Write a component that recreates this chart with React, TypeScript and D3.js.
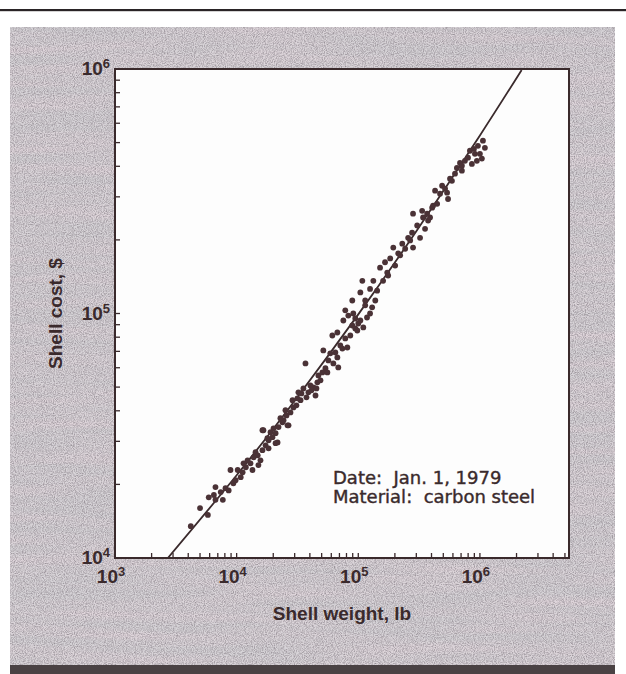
import * as d3 from "d3";
import React from "react";

// shell weight (1000 lb) and shell cost (1000 $)
const weightK = [
  4.2, 5.8, 5.9, 6.7, 6.7, 7.7, 8.1, 8.6, 8.9, 9.4, 10.2, 10.8, 11.9, 12.3, 13.0, 13.8, 14.3, 15.7, 16.3, 16.6,
  17.3, 18.3, 19.0, 19.7, 20.9, 22.1, 21.7, 23.8,
  20.1, 24.3, 25.2, 26.7, 29.3, 31.6, 32.2, 33.5, 35.4, 36.8, 38.9, 40.4, 42.8, 46.1, 44.5, 47.0, 53.7, 56.8,
  62.4, 67.3, 68.5, 61.2, 67.3, 51.6, 58.9, 74.0, 81.3, 78.2, 86.0, 89.3, 94.5, 100, 104, 110, 118, 125, 75.4, 82.8,
  16.3, 26.2,
  78.2, 89.3, 91.0, 104, 108, 114, 125, 130, 133, 143, 151, 160, 173, 183, 194, 201, 213, 230, 243, 257, 277, 282,
  305, 322, 341, 375, 405, 445,
  282, 335, 389, 412, 428, 470, 537, 547, 589, 624, 647, 686, 753, 798, 828, 910, 944, 1000, 963, 1059, 859,
  28.8, 31.0, 34.1, 37.5, 41.2, 45.3, 48.9, 50.7, 14.9, 11.4, 17.9, 9.8, 7.4, 5.0, 166, 489, 711, 368, 94.5, 114,
  25.7, 27.7, 22.9, 55.7, 64.8, 71.2, 98.2, 138, 176, 221, 267, 354, 517, 568, 711, 893, 1099, 1038,
  13.5, 15.1, 18.3, 20.9, 6.5, 11.2,
];
const costK = [
  13.5, 15.0, 17.7, 17.3, 19.5, 17.3, 19.3, 18.9, 22.9, 20.2, 22.9, 21.4, 23.5, 25.1, 24.4, 25.8, 27.1, 25.1, 27.6, 33.3,
  28.9, 30.3, 32.7, 31.2, 32.4, 34.3, 29.7, 35.9,
  33.9, 36.6, 40.2, 34.9, 41.3, 45.0, 47.6, 44.2, 49.4, 62.5, 47.6, 50.8, 49.9, 52.3, 46.2, 55.8, 59.7, 64.3,
  62.5, 66.1, 60.2, 81.3, 83.6, 70.6, 68.7, 71.9, 72.6, 79.1, 81.3, 89.3, 86.9, 91.0, 93.6, 87.7, 96.3, 100, 93.6, 98.1,
  33.3, 34.9,
  103, 113, 100, 122, 136, 113, 126, 106, 136, 124, 154, 136, 147, 168, 186, 157, 176, 193, 184, 204, 214, 186,
  229, 204, 247, 240, 271, 281,
  256, 263, 247, 276, 318, 309, 312, 294, 349, 373, 394, 413, 421, 434, 463, 450, 421, 450, 485, 509, 409,
  44.2, 42.1, 47.1, 45.4, 48.5, 49.4, 53.3, 57.4, 26.3, 24.4, 30.9, 20.8, 18.6, 16.0, 162, 333, 384, 256, 95.4, 108,
  38.3, 39.4, 37.3, 57.4, 69.3, 74.0, 85.2, 113, 143, 173, 199, 222, 324, 356, 402, 471, 476, 430,
  22.9, 24.0, 28.1, 29.5, 18.1, 22.4,
];

// correlation curve as drawn through the cloud (lb, $)
const fitWeight = [2720, 10000, 30000, 100000, 300000, 1000000, 2200000];
const fitCost = [10000, 21800, 44000, 99200, 217000, 535000, 990000];

const xDecades = [1e3, 1e4, 1e5, 1e6];
const yDecades = [1e4, 1e5, 1e6];
const notes = ["Date:\u00a0 Jan. 1, 1979", "Material:\u00a0 carbon steel"];

const W = 626;
const H = 674;
const box = {left: 115, right: 569, top: 69, bottom: 558};
const ink = "#3a2a2c";
const font = "'Liberation Sans', Arial, sans-serif";

export default function App() {
  const x = d3.scaleLog().domain([1e3, 5.4e6]).range([box.left, box.right]);
  const y = d3.scaleLog().domain([1e4, 1e6]).range([box.bottom, box.top]);

  const fit = fitWeight.map((w, i) => [w, fitCost[i]] as [number, number]);
  const curve = d3
    .line<[number, number]>()
    .x(d => x(d[0]))
    .y(d => y(d[1]))
    .curve(d3.curveNatural)(fit);

  const pts = weightK.map((w, i) => [w * 1000, costK[i] * 1000]);
  const pow = (v: number) => String(Math.round(Math.log10(v)));

  return (
    <svg width={W} height={H} style={{position: "absolute", left: 0, top: 0}}>
      <defs>
        <filter id="grain" x="0" y="0" width="100%" height="100%">
          <feTurbulence type="fractalNoise" baseFrequency="0.9" numOctaves="2" seed="4"/>
          <feColorMatrix type="matrix" values="0 0 0 0 0.26  0 0 0 0 0.23  0 0 0 0 0.26  1.9 0 0 0 -0.68"/>
        </filter>
        <filter id="stripes" x="0" y="0" width="100%" height="100%">
          <feTurbulence type="fractalNoise" baseFrequency="0.006 0.09" numOctaves="2" seed="11"/>
          <feColorMatrix type="matrix" values="0 0 0 0 0.86  0 0 0 0 0.7  0 0 0 0 0.76  1.4 0 0 0 -0.45"/>
        </filter>
        <clipPath id="plotClip">
          <rect x={box.left} y={box.top} width={box.right - box.left} height={box.bottom - box.top}/>
        </clipPath>
      </defs>

      <rect width={W} height={H} fill="#ffffff"/>
      <rect x={0} y={9} width={W} height={2.2} fill="#2a2426"/>

      <rect x={10} y={27} width={605} height={640} fill="#d6d3d7"/>
      <rect x={10} y={27} width={605} height={640} filter="url(#stripes)" opacity={0.55}/>
      <rect x={10} y={27} width={605} height={640} filter="url(#grain)" opacity={0.85}/>
      <rect x={10} y={665} width={605} height={9} fill="#4a4244"/>

      <rect x={box.left} y={box.top} width={box.right - box.left} height={box.bottom - box.top} fill="#fdfdfd"/>

      <g clipPath="url(#plotClip)">
        <path d={curve ?? ""} fill="none" stroke={ink} strokeWidth={1.8}/>
        {pts.map((d, i) => (
          <circle key={i} cx={x(d[0])} cy={y(d[1])} r={2.9} fill="#4a3236"/>
        ))}
      </g>

      {x.ticks().map((t, i) => (
        <line key={"xt" + i} x1={x(t)} x2={x(t)} y1={box.bottom} y2={box.bottom - 5} stroke={ink} strokeWidth={1.3}/>
      ))}
      {y.ticks().map((t, i) => (
        <line key={"yt" + i} x1={box.left} x2={box.left + 5} y1={y(t)} y2={y(t)} stroke={ink} strokeWidth={1.3}/>
      ))}

      <rect x={box.left} y={box.top} width={box.right - box.left} height={box.bottom - box.top}
            fill="none" stroke={ink} strokeWidth={2}/>

      <g fontFamily={font} fontWeight="bold" fill={ink}>
        {xDecades.map(v => (
          <text key={"xl" + v} x={x(v) - 4} y={583} textAnchor="middle" fontSize={19}>
            <tspan>10</tspan>
            <tspan dy={-7} fontSize={13}>{pow(v)}</tspan>
          </text>
        ))}
        {yDecades.map(v => (
          <text key={"yl" + v} x={110} y={y(v) + 6} textAnchor="end" fontSize={19}>
            <tspan>10</tspan>
            <tspan dy={-7} fontSize={13}>{pow(v)}</tspan>
          </text>
        ))}
        <text x={(box.left + box.right) / 2} y={620} textAnchor="middle" fontSize={19}>
          Shell weight, lb
        </text>
        <text transform={`translate(62,${(box.top + box.bottom) / 2}) rotate(-90)`} textAnchor="middle" fontSize={19}>
          Shell cost, $
        </text>
      </g>

      <g fontFamily="'DejaVu Sans', sans-serif" fontSize={18} fill={ink} stroke={ink} strokeWidth={0.4}>
        {notes.map((s, i) => (
          <text key={s} x={333} y={484 + i * 19}>{s}</text>
        ))}
      </g>
    </svg>
  );
}
